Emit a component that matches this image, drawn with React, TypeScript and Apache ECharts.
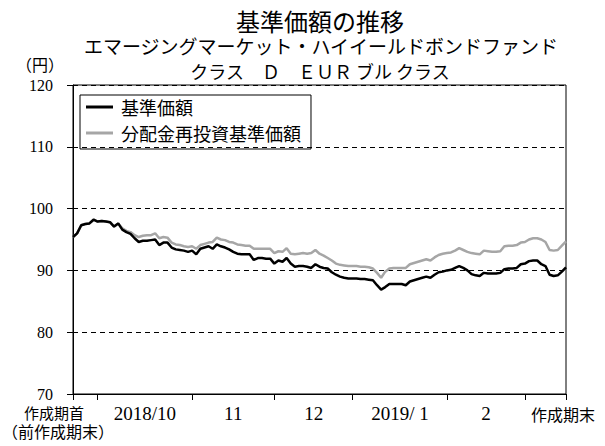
import React, { useEffect, useRef } from "react";
import * as echarts from "echarts";

// 基準価額 (daily, index 0 = 作成期首)
const navValues = [
  95.4, 96.0, 97.3, 97.5, 97.6, 98.2, 97.9, 98.0, 97.9, 97.8,
  97.1, 97.6, 96.6, 96.2, 95.9, 95.2, 94.6, 94.8, 94.8, 94.9,
  95.0, 94.1, 94.5, 94.5, 93.7, 93.4, 93.3, 93.2, 93.0, 93.2,
  92.6, 93.5, 93.7, 93.9, 93.5, 94.2, 93.9, 93.7, 93.4, 93.0,
  92.7, 92.6, 92.6, 92.6, 91.7, 92.0, 92.0, 91.9, 91.9, 91.1,
  91.6, 91.4, 92.0, 91.1, 90.6, 90.7, 90.7, 90.6, 90.4, 91.0,
  90.6, 90.4, 90.3, 89.7, 89.3, 89.0, 88.8, 88.7, 88.7, 88.7,
  88.6, 88.6, 88.5, 88.4, 87.6, 86.9, 87.3, 87.8, 87.8, 87.8,
  87.8, 87.6, 88.2, 88.4, 88.6, 88.8, 89.0, 88.8, 89.3, 89.7,
  89.8, 90.0, 90.1, 90.4, 90.7, 90.4, 90.0, 89.4, 89.2, 89.1,
  89.6, 89.5, 89.5, 89.5, 89.6, 90.2, 90.3, 90.3, 90.4, 91.0,
  91.1, 91.5, 91.6, 91.6, 91.0, 90.7, 89.3, 89.1, 89.2, 89.8,
  90.5,
];

// 分配金再投資基準価額
const reinvestValues = [
  95.4, 96.0, 97.3, 97.5, 97.6, 98.2, 97.9, 98.0, 97.9, 97.8,
  97.1, 97.6, 96.8, 96.4, 96.2, 95.7, 95.4, 95.6, 95.7, 95.7,
  96.0, 95.2, 95.4, 95.3, 94.5, 94.2, 94.1, 93.9, 93.8, 93.9,
  93.5, 94.1, 94.3, 94.5, 94.6, 95.3, 95.0, 94.9, 94.6, 94.5,
  94.2, 94.1, 94.0, 94.0, 93.5, 93.5, 93.5, 93.5, 93.5, 92.8,
  93.1, 93.0, 93.6, 92.7, 92.6, 92.7, 92.8, 92.7, 92.8, 93.3,
  92.7, 92.4, 92.0, 91.6, 91.1, 90.9, 90.8, 90.7, 90.7, 90.7,
  90.6, 90.6, 90.5, 90.3, 89.6, 88.8, 89.8, 90.3, 90.4, 90.4,
  90.4, 90.4, 91.0, 91.2, 91.4, 91.6, 91.8, 91.6, 92.1, 92.5,
  92.7, 92.8, 92.9, 93.2, 93.6, 93.3, 93.0, 92.8, 92.7, 92.6,
  93.2, 93.1, 93.0, 93.0, 93.1, 93.9, 94.0, 94.0, 94.1, 94.5,
  94.6, 95.0, 95.2, 95.2, 95.0, 94.6, 93.3, 93.2, 93.3, 94.0,
  94.7,
];

// month boundaries (day index) and label positions
const monthTickIdx = [0, 6, 29, 49, 68, 91, 110, 120];
const labelIdx = [17.5, 39, 58.6, 79.6, 100.5, 120];
const labelTexts = ["2018/10", "11", "12", "2019/ 1", "2", "作成期末"];
const startLabel = ["作成期首", "（前作成期末）"];

const yTicks = [70, 80, 90, 100, 110, 120];

const seriesNames = ["基準価額", "分配金再投資基準価額"];
const titleLines = [
  "基準価額の推移",
  "エマージングマーケット・ハイイールドボンドファンド",
  "クラス　Ｄ　ＥＵＲ ブル クラス",
];

const SERIF = "serif";
const JFONT = "Noto Sans CJK JP, sans-serif";

export default function App() {
  const ref = useRef<HTMLDivElement>(null);
  useEffect(() => {
    if (!ref.current) return;
    const chart = echarts.init(ref.current, undefined, { renderer: "svg" });
    const lastIdx = navValues.length - 1;
    const txt = (text: string, x: number, y: number, size: number, lh: number) => ({
      type: "text",
      x,
      y,
      style: {
        text,
        font: `${size}px ${JFONT}`,
        lineHeight: lh,
        fill: "#000",
        align: "center",
        verticalAlign: "middle",
      },
    });
    chart.setOption({
      animation: false,
      backgroundColor: "#ffffff",
      graphic: [
        txt(titleLines[0], 320, 20, 24, 24),
        txt(titleLines[1], 321, 45, 19, 20),
        txt(titleLines[2], 320, 71, 18, 19),
        txt("（円）", 40, 64, 16, 17),
        txt(startLabel[0], 54, 412, 15, 16),
        txt(startLabel[1], 58, 431, 16, 17),
      ],
      legend: {
        data: seriesNames,
        orient: "vertical",
        left: 80,
        top: 95,
        padding: [3, 10, 7, 6],
        itemGap: 8,
        itemWidth: 27,
        itemHeight: 3,
        icon: "rect",
        borderColor: "#000",
        borderWidth: 1,
        borderRadius: 0,
        textStyle: { fontFamily: JFONT, fontSize: 18, color: "#000", padding: [0, 0, 0, 3], lineHeight: 18 },
      },
      grid: { left: 73, right: 39, top: 85, bottom: 52, containLabel: false, show: true, borderColor: "#000", borderWidth: 1 },
      xAxis: {
        type: "value",
        min: 0,
        max: lastIdx,
        axisLine: { show: true, lineStyle: { color: "#000", width: 1 } },
        axisTick: {
          show: true,
          length: 6,
          lineStyle: { color: "#000" },
          customValues: monthTickIdx,
        },
        splitLine: { show: false },
        axisLabel: {
          customValues: labelIdx,
          margin: 10,
          color: "#000",
          fontFamily: SERIF,
          fontSize: 19,
          hideOverlap: false,
          showMinLabel: true,
          showMaxLabel: true,
          formatter: (v: number) => {
            const i = labelIdx.indexOf(v);
            if (i === labelIdx.length - 1) return "{b|" + labelTexts[i] + "}";
            return i >= 0 ? labelTexts[i] : "";
          },
          rich: {
            b: { fontFamily: JFONT, fontSize: 16, lineHeight: 20, padding: [0, 6, 0, 0], color: "#000" },
          },
        },
      },
      yAxis: {
        type: "value",
        min: yTicks[0],
        max: yTicks[yTicks.length - 1],
        interval: 10,
        axisLine: { show: true, lineStyle: { color: "#000", width: 1 } },
        axisTick: { show: true, length: 6, lineStyle: { color: "#000" } },
        splitLine: { show: true, lineStyle: { color: "#000", type: [5, 4], width: 1 } },
        axisLabel: { color: "#000", fontFamily: SERIF, fontSize: 16, margin: 20 },
      },
      series: [
        {
          name: seriesNames[1],
          type: "line",
          symbol: "none",
          color: "#a6a6a6",
          lineStyle: { width: 2.5, color: "#a6a6a6" },
          data: reinvestValues.map((v, i) => [i, v]),
          z: 2,
        },
        {
          name: seriesNames[0],
          type: "line",
          symbol: "none",
          color: "#000000",
          lineStyle: { width: 2.5, color: "#000000" },
          data: navValues.map((v, i) => [i, v]),
          z: 3,
        },
      ],
    });
    return () => chart.dispose();
  }, []);
  return <div ref={ref} style={{ width: 605, height: 446, position: "absolute", left: 0, top: 0 }} />;
}
